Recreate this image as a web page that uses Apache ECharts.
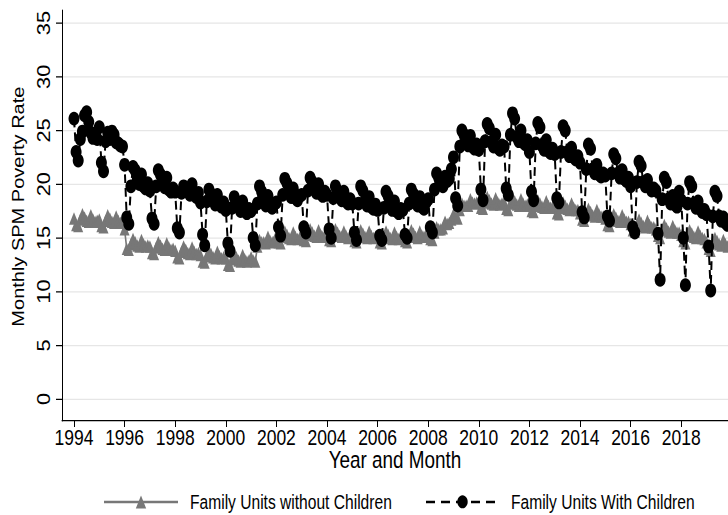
<!DOCTYPE html>
<html>
<head>
<meta charset="utf-8">
<script src="https://cdn.jsdelivr.net/npm/echarts@6/dist/echarts.min.js"></script>
<style>
  html, body { margin: 0; padding: 0; background: #fff; width: 728px; height: 515px; overflow: hidden; }
  /* drawn at 412px tall, then stretched vertically to fill the 515px page */
  #chart { width: 728px; height: 412px; transform: scaleY(1.25); transform-origin: 0 0; }
</style>
</head>
<body>
<div id="chart"></div>
<script>
// Monthly SPM poverty rates, January 1994 onward (one value per month)
const firstYear = 1994;
const yearTicks = [1994, 1996, 1998, 2000, 2002, 2004, 2006, 2008, 2010, 2012, 2014, 2016, 2018];
const rateTicks = [0, 5, 10, 15, 20, 25, 30, 35];
const seriesNames = ['Family Units without Children', 'Family Units With Children'];

const withoutChildren = [
  16.8, 16.2, 16.1, 16.7, 17.2, 16.9, 16.6, 16.5, 17.1, 16.7, 16.5, 16.6, // 1994
  16.7, 16.1, 16.0, 16.6, 17.1, 16.8, 16.5, 16.4, 17.0, 16.6, 16.4, 16.5, // 1995
  15.8, 14.0, 13.9, 14.4, 14.9, 14.6, 14.3, 14.2, 14.8, 14.4, 14.2, 14.3, // 1996
  14.2, 13.6, 13.5, 14.1, 14.6, 14.3, 14.0, 13.9, 14.5, 14.1, 13.9, 14.0, // 1997
  13.8, 13.2, 13.1, 13.7, 14.2, 13.9, 13.6, 13.5, 14.1, 13.7, 13.5, 13.6, // 1998
  13.4, 12.8, 12.7, 13.3, 13.8, 13.5, 13.2, 13.1, 13.7, 13.3, 13.1, 13.2, // 1999
  13.1, 12.5, 12.4, 13.0, 13.5, 13.2, 12.9, 12.8, 13.4, 13.0, 12.8, 12.9, // 2000
  13.2, 12.9, 12.8, 14.2, 14.8, 14.6, 14.6, 14.5, 15.1, 14.7, 14.6, 14.7, // 2001
  15.2, 14.6, 14.5, 15.1, 15.6, 15.3, 15.0, 14.9, 15.5, 15.1, 14.9, 15.0, // 2002
  15.4, 14.8, 14.7, 15.3, 15.8, 15.5, 15.2, 15.1, 15.7, 15.3, 15.1, 15.2, // 2003
  15.4, 14.8, 14.7, 15.3, 15.8, 15.5, 15.2, 15.1, 15.6, 15.2, 15.0, 15.1, // 2004
  15.3, 14.7, 14.6, 15.2, 15.7, 15.4, 15.1, 15.0, 15.6, 15.2, 15.0, 15.1, // 2005
  15.2, 14.6, 14.5, 15.1, 15.6, 15.3, 15.0, 14.9, 15.5, 15.1, 14.9, 15.0, // 2006
  15.3, 14.7, 14.6, 15.2, 15.7, 15.4, 15.1, 15.0, 15.6, 15.2, 15.1, 15.3, // 2007
  15.5, 14.9, 14.8, 15.5, 16.0, 15.8, 15.8, 15.9, 16.5, 16.3, 16.4, 16.7, // 2008
  17.2, 16.9, 16.8, 17.6, 18.2, 18.0, 18.0, 18.0, 18.6, 18.3, 18.2, 18.3, // 2009
  18.4, 17.8, 17.7, 18.3, 18.8, 18.5, 18.2, 18.1, 18.7, 18.3, 18.1, 18.2, // 2010
  18.3, 17.7, 17.6, 18.2, 18.7, 18.4, 18.1, 18.0, 18.6, 18.2, 18.0, 18.1, // 2011
  18.1, 17.5, 17.4, 18.0, 18.5, 18.2, 17.9, 17.8, 18.4, 18.0, 17.8, 17.9, // 2012
  17.9, 17.3, 17.2, 17.8, 18.3, 18.0, 17.7, 17.6, 18.2, 17.8, 17.6, 17.6, // 2013
  17.3, 16.7, 16.6, 17.2, 17.7, 17.4, 17.1, 17.0, 17.6, 17.2, 17.0, 17.0, // 2014
  16.8, 16.2, 16.1, 16.7, 17.2, 16.9, 16.6, 16.5, 17.1, 16.7, 16.5, 16.5, // 2015
  16.3, 15.7, 15.6, 16.2, 16.7, 16.4, 16.1, 16.0, 16.6, 16.2, 16.0, 16.0, // 2016
  15.8, 15.2, 15.0, 15.7, 16.2, 15.9, 15.6, 15.5, 16.1, 15.7, 15.5, 15.5, // 2017
  15.3, 14.7, 14.5, 15.2, 15.7, 15.4, 15.1, 15.0, 15.6, 15.2, 15.0, 14.9, // 2018
  14.6, 14.0, 13.8, 14.5, 15.0, 14.7, 14.4, 14.3, 14.8, 14.4, 14.2, 14.2  // 2019
];

const withChildren = [
  26.1, 23.0, 22.2, 24.2, 24.9, 26.4, 26.7, 25.8, 24.8, 24.3, 24.6, 24.2, // 1994
  25.3, 22.0, 21.2, 24.0, 24.8, 24.2, 24.9, 24.6, 23.9, 23.8, 23.6, 23.5, // 1995
  21.8, 16.9, 16.3, 19.8, 21.6, 21.3, 20.4, 20.0, 20.9, 19.8, 19.6, 20.1, // 1996
  19.4, 16.8, 16.3, 19.8, 21.3, 20.9, 20.1, 19.7, 20.6, 19.5, 19.3, 19.6, // 1997
  19.3, 15.9, 15.5, 19.2, 19.8, 19.5, 19.4, 19.0, 20.0, 19.1, 18.8, 19.2, // 1998
  18.3, 15.3, 14.3, 18.4, 19.5, 19.1, 18.5, 18.1, 19.0, 18.1, 17.9, 18.3, // 1999
  17.6, 14.5, 13.8, 17.8, 18.8, 18.4, 17.9, 17.5, 18.4, 17.5, 17.3, 17.7, // 2000
  17.5, 15.0, 14.3, 18.2, 19.8, 19.3, 18.4, 18.0, 18.9, 18.0, 17.8, 18.2, // 2001
  18.3, 16.0, 15.2, 19.0, 20.5, 20.1, 19.2, 18.8, 19.6, 18.7, 18.5, 18.9, // 2002
  19.0, 16.0, 15.5, 19.4, 20.6, 20.2, 19.6, 19.2, 20.0, 19.1, 18.9, 19.3, // 2003
  19.0, 15.8, 15.0, 18.7, 19.8, 19.4, 18.9, 18.5, 19.3, 18.4, 18.2, 18.6, // 2004
  18.2, 15.5, 14.8, 18.2, 19.8, 19.4, 18.4, 18.0, 18.8, 17.9, 17.7, 18.1, // 2005
  17.6, 15.2, 14.8, 17.8, 19.3, 18.9, 18.0, 17.6, 18.4, 17.5, 17.3, 17.7, // 2006
  17.6, 15.3, 15.0, 18.2, 19.5, 19.1, 18.4, 18.0, 18.8, 17.9, 17.7, 18.3, // 2007
  18.6, 16.0, 15.5, 19.5, 21.0, 20.6, 20.0, 19.8, 20.7, 20.3, 20.5, 21.4, // 2008
  22.5, 18.7, 18.0, 23.5, 25.0, 24.6, 23.8, 23.6, 24.5, 23.5, 23.3, 23.7, // 2009
  23.2, 19.5, 18.5, 24.0, 25.6, 25.2, 23.9, 23.5, 24.6, 23.4, 23.2, 23.6, // 2010
  23.5, 19.6, 19.0, 24.6, 26.6, 26.1, 24.4, 24.0, 25.0, 23.9, 23.7, 24.1, // 2011
  23.0, 19.3, 18.5, 23.8, 25.7, 25.3, 23.6, 23.2, 24.1, 23.1, 22.9, 23.3, // 2012
  22.8, 18.7, 18.3, 23.0, 25.4, 25.0, 23.0, 22.6, 23.4, 22.5, 22.3, 22.6, // 2013
  22.0, 17.4, 16.9, 21.4, 23.7, 23.3, 21.4, 21.0, 21.8, 20.9, 20.7, 21.0, // 2014
  20.8, 17.0, 16.6, 21.0, 22.8, 22.4, 21.0, 20.6, 21.3, 20.5, 20.3, 20.6, // 2015
  19.8, 16.0, 15.5, 20.2, 22.1, 21.7, 20.2, 19.8, 20.4, 19.7, 19.4, 19.6, // 2016
  19.4, 15.4, 11.1, 18.6, 20.6, 20.2, 18.6, 18.2, 18.9, 18.1, 17.9, 19.3, // 2017
  18.5, 15.0, 10.6, 18.2, 20.2, 19.8, 18.2, 17.8, 18.4, 17.7, 17.4, 17.6, // 2018
  17.2, 14.2, 10.1, 17.0, 19.3, 18.9, 17.0, 16.6, 16.9, 16.4, 16.2, 16.5  // 2019
];

// month index -> fractional year on the x axis
function toPoints(values) {
  return values.map(function (v, i) { return [firstYear + i / 12, v]; });
}

const FONT = "'Liberation Sans', Arial, sans-serif";
const chart = echarts.init(document.getElementById('chart'), null, { renderer: 'svg' });

const legendText = { fontSize: 15.6, lineHeight: 15, color: '#000', fontFamily: FONT, padding: [0, 0, 0, 7] };

chart.setOption({
  animation: false,
  backgroundColor: '#fff',
  textStyle: { fontFamily: FONT, color: '#000' },
  grid: { left: 62, right: 0, top: 8, bottom: 75.4, containLabel: false },
  xAxis: {
    type: 'value',
    min: 1993.526,
    max: 2019.85,
    name: 'Year and Month',
    nameLocation: 'middle',
    nameGap: 22,
    nameMoveOverlap: false,
    nameTextStyle: { fontSize: 18.9, color: '#000', fontFamily: FONT },
    axisLine: { show: true, onZero: false, lineStyle: { color: '#000', width: 1 } },
    axisTick: { show: true, length: 5, customValues: yearTicks, lineStyle: { color: '#000' } },
    axisLabel: {
      customValues: yearTicks, fontSize: 17.5, color: '#000', margin: 4, fontFamily: FONT,
      formatter: function (v) { return String(Math.round(v)); }
    },
    splitLine: { show: false }
  },
  yAxis: {
    type: 'value',
    min: -2.02,
    max: 36.21,
    name: 'Monthly SPM Poverty Rate',
    nameLocation: 'middle',
    nameGap: 24,
    nameTextStyle: { fontSize: 16, color: '#000', fontFamily: FONT, padding: [0, 0, 0, 14] },
    axisLine: { show: true, onZero: false, lineStyle: { color: '#000', width: 1 } },
    axisTick: { show: true, length: 6, customValues: rateTicks, lineStyle: { color: '#000' } },
    axisLabel: {
      customValues: rateTicks, rotate: 90, fontSize: 17.5, color: '#000', margin: 9, fontFamily: FONT,
      formatter: function (v) { return String(Math.round(v)); }
    },
    splitLine: { show: true, lineStyle: { color: '#e6e6e6', width: 1 } }
  },
  legend: [
    {
      data: [seriesNames[0]], left: 103, top: 393.5, padding: 0, itemWidth: 74, itemHeight: 13, itemGap: 0,
      lineStyle: { width: 2 },
      textStyle: legendText
    },
    {
      data: [seriesNames[1]], left: 425, top: 393.5, padding: 0, itemWidth: 73, itemHeight: 13, itemGap: 0,
      lineStyle: { width: 2, type: [9, 6] },
      textStyle: legendText
    }
  ],
  series: [
    {
      name: seriesNames[0],
      type: 'line',
      data: toPoints(withoutChildren),
      symbol: 'triangle',
      symbolSize: 10,
      color: '#777777',
      itemStyle: { color: '#777777' },
      lineStyle: { color: '#777777', width: 1.6, type: 'solid' },
      z: 2
    },
    {
      name: seriesNames[1],
      type: 'line',
      data: toPoints(withChildren),
      symbol: 'circle',
      symbolSize: 11,
      color: '#000000',
      itemStyle: { color: '#000000' },
      lineStyle: { color: '#000000', width: 2, type: [7, 4] },
      z: 3
    }
  ]
});
</script>
</body>
</html>
